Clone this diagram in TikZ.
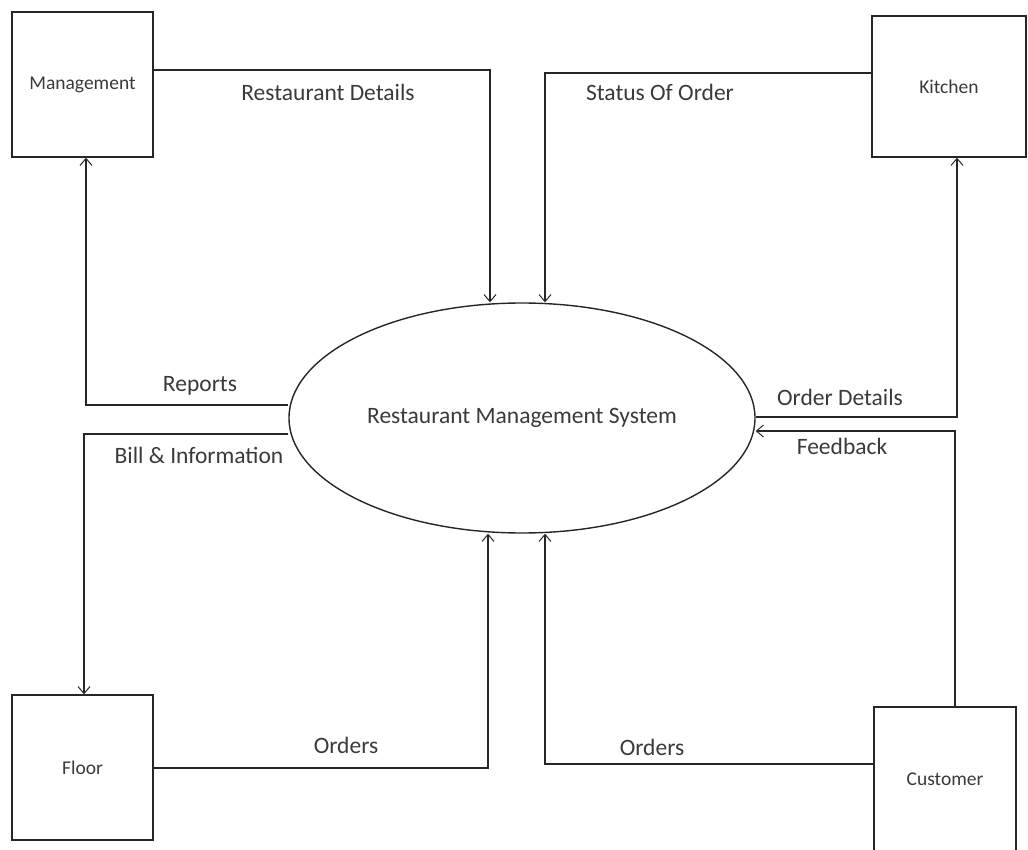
\documentclass[tikz,border=0pt]{standalone}
\usepackage{fontspec}
\setmainfont{Carlito}
\usetikzlibrary{shapes.geometric,arrows.meta}
\definecolor{linecol}{HTML}{262626}
\definecolor{txtcol}{HTML}{3A3A3A}
\tikzset{
  entity/.style={draw=linecol, line width=1.4pt, rectangle, inner sep=0pt, text=txtcol, font=\fontsize{19.5}{22}\selectfont},
  process/.style={draw=linecol, line width=1.4pt, ellipse, inner sep=0pt, minimum width=466pt, minimum height=230pt, text=txtcol, font=\fontsize{23.5}{26}\selectfont},
  flow/.style={draw=linecol, line width=1.4pt, -{Straight Barb[length=7pt,width=12pt,line width=1pt]}},
  flowlabel/.style={text=txtcol, font=\fontsize{23.5}{26}\selectfont, inner sep=0pt}
}
\begin{document}
\begin{tikzpicture}[x=1pt,y=-1pt]
\useasboundingbox (0,0) rectangle (1028,850);
\clip (0,0) rectangle (1028,850);
% entities
\node[entity, minimum width=141pt, minimum height=145pt] (mgmt) at (82.5,84.5) {Management};
\node[entity, minimum width=154pt, minimum height=141pt] (kitchen) at (949,86.5) {Kitchen};
\node[entity, minimum width=141pt, minimum height=145pt] (floor) at (82.5,767.5) {Floor};
\node[entity, minimum width=142pt, minimum height=144pt] (cust) at (945,779) {Customer};
% process
\node[process] (rms) at (522,418) {Restaurant Management System};
% flows
\draw[flow] (mgmt.east |- 0,70) -| (rms.north -| 490,0);
\draw[flow] (kitchen.west |- 0,73) -| (rms.north -| 545,0);
\draw[flow] (rms.west |- 0,405) -| (mgmt.south -| 86,0);
\draw[flow] (rms.west |- 0,434) -| (floor.north -| 84,0);
\draw[flow] (rms.east |- 0,417) -| (kitchen.south -| 957,0);
\draw[flow] (cust.north -| 955,0) |- (rms.east |- 0,431);
\draw[flow] (floor.east |- 0,768) -| (rms.south -| 488,0);
\draw[flow] (cust.west |- 0,764) -| (rms.south -| 545,0);
% labels
\node[flowlabel] (l1) at (328,92) {Restaurant Details};
\node[flowlabel] (l2) at (660,92) {Status Of Order};
\node[flowlabel] (l3) at (200,386) {Reports};
\node[flowlabel] (l4) at (199,455) {Bill \& Information};
\node[flowlabel] (l5) at (840,397) {Order Details};
\node[flowlabel] (l6) at (842,446) {Feedback};
\node[flowlabel] (l7) at (346,745) {Orders};
\node[flowlabel] (l8) at (652,747) {Orders};
\end{tikzpicture}
\end{document}
